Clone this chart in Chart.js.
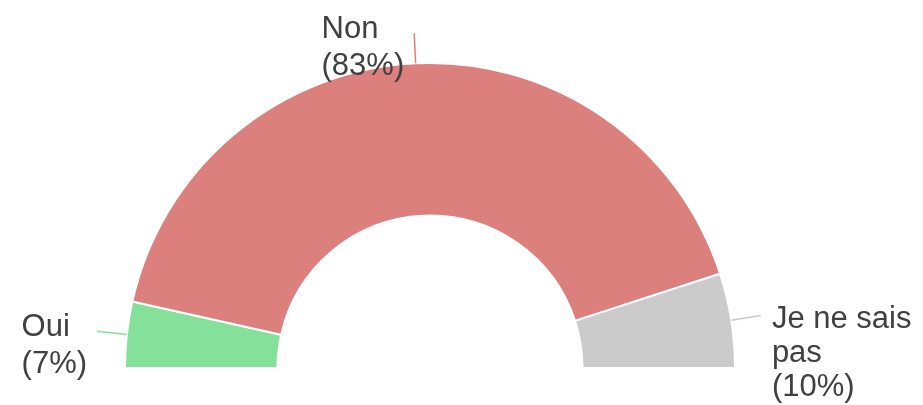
<!DOCTYPE html>
<html><head><meta charset="utf-8">
<script src="https://cdn.jsdelivr.net/npm/chart.js@4"></script>
<style>html,body{margin:0;padding:0;background:#fff;}#wrap{width:923px;height:405px;}</style>
</head><body><div id="wrap"><canvas id="c" width="923" height="405"></canvas></div>
<script>
const categories = ["Oui", "Non", "Je ne sais pas"];
const values = [7, 83, 10];
const colors = ["#85E09A", "#DC807E", "#CCCBCB"];

const FONT = '31px "Liberation Sans", Arial, sans-serif';

const labelPlugin = {
  id: 'outLabels',
  afterDraw(chart) {
    const ctx = chart.ctx;
    const meta = chart.getDatasetMeta(0);
    const total = values.reduce((a, b) => a + b, 0);
    ctx.save();
    ctx.font = FONT;
    meta.data.forEach((arc, i) => {
      const p = arc.getProps(['x', 'y', 'startAngle', 'endAngle', 'outerRadius'], true);
      const mid = (p.startAngle + p.endAngle) / 2;
      const cos = Math.cos(mid), sin = Math.sin(mid);
      const sx = p.x + cos * p.outerRadius, sy = p.y + sin * p.outerRadius;
      const ex = p.x + cos * (p.outerRadius + 30), ey = p.y + sin * (p.outerRadius + 30);
      ctx.strokeStyle = colors[i];
      ctx.lineWidth = 1.5;
      ctx.beginPath(); ctx.moveTo(sx, sy); ctx.lineTo(ex, ey); ctx.stroke();
      const pct = Math.round(values[i] / total * 100) + '%';
      const right = cos >= 0;
      const maxW = right ? chart.width - (ex + 11) - 2 : 400;
      const words = categories[i].split(' ');
      const lines = [];
      let cur = '';
      words.forEach(w => {
        const t = cur ? cur + ' ' + w : w;
        if (ctx.measureText(t).width > maxW && cur) { lines.push(cur); cur = w; } else cur = t;
      });
      lines.push(cur);
      lines.push('(' + pct + ')');
      const lineH = lines.length > 2 ? 34 : 37;
      const blockW = Math.max(...lines.map(l => ctx.measureText(l).width));
      const left = right ? ex + 11 : ex - 10 - blockW;
      let base = ey + (right ? 12 : 5);
      ctx.fillStyle = '#404040';
      ctx.textBaseline = 'alphabetic';
      ctx.textAlign = 'left';
      lines.forEach((l, k) => ctx.fillText(l, left, base + k * lineH));
    });
    ctx.restore();
  }
};

new Chart(document.getElementById('c'), {
  type: 'doughnut',
  data: {
    labels: categories,
    datasets: [{ data: values, backgroundColor: colors, borderColor: '#ffffff', borderWidth: 2 }]
  },
  options: {
    responsive: false,
    animation: false,
    rotation: -90,
    circumference: 180,
    cutout: '50%',
    layout: { padding: { left: 123, right: 186, top: 62, bottom: 36 } },
    plugins: { legend: { display: false }, tooltip: { enabled: false } }
  },
  plugins: [labelPlugin]
});
</script>
</body></html>
